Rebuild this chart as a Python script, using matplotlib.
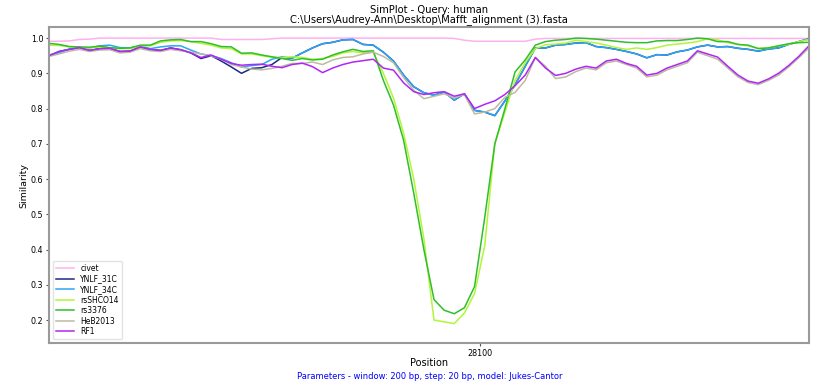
import numpy as np
import matplotlib
matplotlib.use("Agg")
import matplotlib.pyplot as plt

# window midpoints (bp), 40 bp apart
positions = np.arange(26400, 29401, 40)

civet = [0.991, 0.991, 0.992, 0.996, 0.997, 1.0, 1.0, 1.0, 1.0, 1.0,
         1.0, 1.0, 1.0, 1.0, 1.0, 1.0, 1.0, 0.996, 0.996, 0.996,
         0.996, 0.996, 0.998, 1.0, 1.0, 1.0, 1.0, 1.0, 1.0, 1.0,
         1.0, 1.0, 1.0, 1.0, 1.0, 1.0, 1.0, 1.0, 1.0, 1.0,
         0.999, 0.994, 0.991, 0.991, 0.991, 0.991, 0.991, 0.991, 0.997, 0.999,
         0.999, 0.999, 0.999, 0.999, 0.999, 0.999, 0.999, 0.999, 0.999, 0.999,
         0.999, 0.999, 0.999, 0.999, 0.999, 0.999, 0.999, 0.999, 0.999, 0.999,
         0.999, 0.999, 0.999, 0.999, 0.999, 0.999]

ynlf_34c = [0.952, 0.958, 0.969, 0.973, 0.972, 0.978, 0.980, 0.973, 0.972, 0.978,
            0.970, 0.975, 0.978, 0.978, 0.966, 0.955, 0.950, 0.942, 0.930, 0.918,
            0.922, 0.925, 0.940, 0.947, 0.943, 0.958, 0.972, 0.984, 0.988, 0.995,
            0.996, 0.982, 0.980, 0.960, 0.935, 0.895, 0.862, 0.845, 0.838, 0.847,
            0.824, 0.842, 0.795, 0.790, 0.780, 0.822, 0.868, 0.920, 0.972, 0.972,
            0.980, 0.982, 0.986, 0.987, 0.976, 0.973, 0.968, 0.962, 0.955, 0.944,
            0.953, 0.952, 0.961, 0.966, 0.975, 0.980, 0.975, 0.976, 0.971, 0.968,
            0.963, 0.969, 0.972, 0.982, 0.990, 0.998]

rf1 = [0.950, 0.962, 0.968, 0.973, 0.965, 0.970, 0.971, 0.962, 0.963, 0.975,
       0.968, 0.965, 0.972, 0.967, 0.958, 0.945, 0.952, 0.940, 0.928, 0.923,
       0.925, 0.926, 0.920, 0.916, 0.925, 0.929, 0.919, 0.902, 0.915, 0.925,
       0.932, 0.936, 0.940, 0.915, 0.909, 0.873, 0.848, 0.840, 0.845, 0.848,
       0.835, 0.842, 0.800, 0.812, 0.822, 0.840, 0.865, 0.895, 0.945, 0.915,
       0.894, 0.900, 0.912, 0.920, 0.915, 0.935, 0.940, 0.928, 0.920, 0.895,
       0.900, 0.915, 0.925, 0.935, 0.964, 0.955, 0.946, 0.920, 0.895, 0.878,
       0.872, 0.884, 0.900, 0.922, 0.948, 0.978]

ynlf_31c = [0.950, 0.962, 0.968, 0.973, 0.965, 0.970, 0.971, 0.962, 0.963, 0.975,
            0.968, 0.965, 0.972, 0.967, 0.958, 0.942, 0.950, 0.935, 0.918, 0.900,
            0.914, 0.916, 0.925, 0.945, 0.943, 0.958, 0.972, 0.984, 0.988, 0.995,
            0.996, 0.982, 0.980, 0.960, 0.935, 0.895, 0.862, 0.845, 0.838, 0.847,
            0.824, 0.842, 0.795, 0.790, 0.780, 0.822, 0.868, 0.920, 0.972, 0.972,
            0.980, 0.982, 0.986, 0.987, 0.976, 0.973, 0.968, 0.962, 0.955, 0.944,
            0.953, 0.952, 0.961, 0.966, 0.975, 0.980, 0.975, 0.976, 0.971, 0.968,
            0.963, 0.969, 0.972, 0.982, 0.990, 0.998]

rsshco14 = [0.980, 0.979, 0.975, 0.973, 0.972, 0.975, 0.972, 0.970, 0.970, 0.978,
            0.978, 0.988, 0.992, 0.993, 0.990, 0.985, 0.980, 0.972, 0.970, 0.955,
            0.955, 0.950, 0.945, 0.945, 0.947, 0.945, 0.940, 0.942, 0.948, 0.958,
            0.962, 0.958, 0.960, 0.900, 0.830, 0.730, 0.600, 0.430, 0.200, 0.195,
            0.190, 0.220, 0.275, 0.410, 0.700, 0.790, 0.880, 0.930, 0.970, 0.981,
            0.983, 0.986, 0.994, 0.990, 0.986, 0.980, 0.973, 0.968, 0.972, 0.968,
            0.973, 0.980, 0.983, 0.986, 0.990, 0.998, 0.995, 0.987, 0.982, 0.978,
            0.971, 0.972, 0.978, 0.982, 0.990, 0.996]

rs3376 = [0.985, 0.982, 0.976, 0.975, 0.974, 0.977, 0.973, 0.971, 0.972, 0.980,
          0.980, 0.992, 0.995, 0.996, 0.990, 0.990, 0.984, 0.976, 0.975, 0.957,
          0.958, 0.952, 0.947, 0.942, 0.937, 0.942, 0.938, 0.940, 0.952, 0.961,
          0.968, 0.962, 0.964, 0.880, 0.810, 0.710, 0.560, 0.400, 0.258, 0.228,
          0.218, 0.235, 0.295, 0.490, 0.700, 0.800, 0.904, 0.938, 0.980, 0.990,
          0.994, 0.996, 1.000, 0.999, 0.997, 0.994, 0.991, 0.988, 0.987, 0.987,
          0.992, 0.993, 0.993, 0.996, 1.000, 0.998, 0.990, 0.990, 0.982, 0.980,
          0.970, 0.972, 0.978, 0.984, 0.987, 0.988]

heb2013 = [0.948, 0.955, 0.963, 0.968, 0.962, 0.966, 0.967, 0.958, 0.960, 0.970,
           0.964, 0.962, 0.968, 0.964, 0.960, 0.955, 0.950, 0.940, 0.925, 0.918,
           0.912, 0.910, 0.914, 0.920, 0.928, 0.928, 0.932, 0.925, 0.938, 0.945,
           0.947, 0.955, 0.960, 0.948, 0.930, 0.888, 0.852, 0.828, 0.835, 0.842,
           0.830, 0.840, 0.785, 0.790, 0.800, 0.832, 0.846, 0.880, 0.945, 0.920,
           0.885, 0.890, 0.905, 0.915, 0.910, 0.930, 0.935, 0.925, 0.915, 0.890,
           0.895, 0.910, 0.920, 0.930, 0.960, 0.950, 0.940, 0.915, 0.890, 0.874,
           0.868, 0.880, 0.895, 0.918, 0.944, 0.972]

series = [
    ("civet", civet, "#ffb0f0"),
    ("YNLF_31C", ynlf_31c, "#1c2a86"),
    ("YNLF_34C", ynlf_34c, "#2aa6f5"),
    ("rsSHCO14", rsshco14, "#b2f53a"),
    ("rs3376", rs3376, "#2fbf2a"),
    ("HeB2013", heb2013, "#bdbb9f"),
    ("RF1", rf1, "#b026f5"),
]

fig = plt.figure(figsize=(8.36, 3.88), dpi=100)
ax = fig.add_axes([0.0586, 0.116, 0.909, 0.814])

for name, vals, col in series:
    ax.plot(positions, vals, color=col, lw=1.1, label=name)

ax.set_xlim(positions[0], positions[-1])
ax.set_ylim(0.135, 1.031)
ax.set_xticks([28100])
yt = np.arange(0.2, 1.01, 0.1)
ax.set_yticks(yt)
ax.set_yticklabels([f"{v:.1f}" for v in yt])
ax.tick_params(labelsize=5.8, length=2, color="#555555", pad=2)
for s in ax.spines.values():
    s.set_color("#9a9a9a")
    s.set_linewidth(1.5)

ax.set_xlabel("Position", fontsize=7, labelpad=0)
ax.set_ylabel("Similarity", fontsize=6.8, labelpad=2)
ax.set_title("SimPlot - Query: human\nC:\\Users\\Audrey-Ann\\Desktop\\Mafft_alignment (3).fasta",
             fontsize=7.2, pad=3.5, linespacing=0.95)

ax.legend(loc="lower left", fontsize=5.5, frameon=True, handlelength=2.4,
          borderpad=0.4, labelspacing=0.2, edgecolor="#dddddd")

fig.text(0.514, 0.022, "Parameters - window: 200 bp, step: 20 bp, model: Jukes-Cantor",
         color="blue", fontsize=6, ha="center")

fig.savefig("out.png", dpi=100)
